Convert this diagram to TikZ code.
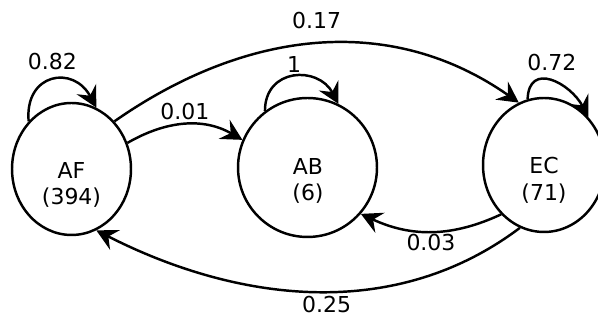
\documentclass[tikz,border=0pt]{standalone}
\usepackage{fontspec}
\setmainfont{DejaVu Sans}
\usetikzlibrary{shapes.geometric, arrows.meta, positioning}

\begin{document}
\begin{tikzpicture}[
    x=0.02cm, y=0.02cm,
    font=\fontsize{12.5}{15.3}\selectfont,
    state/.style={ellipse, draw, line width=1.4pt, inner sep=0pt},
    count/.style={align=center, inner sep=0pt},
    trans/.style={line width=1.4pt,
                  -{Stealth[length=0.42cm, width=0.44cm, inset=0.15cm]}},
    prob/.style={inner sep=2pt},
]
\useasboundingbox (0,0) rectangle (598,320);
%% States
\node[state, minimum width=2.38cm, minimum height=2.64cm] (AF) at (71.5,151) {};
\node[state, minimum width=2.78cm, minimum height=2.78cm] (AB) at (307.5,152.5) {};
\node[state, minimum width=2.44cm, minimum height=2.68cm] (EC) at (544,155) {};
\node[count] (AFt) at (71.5,135) {AF\\(394)};
\node[count] (ABt) at (308,139) {AB\\(6)};
\node[count] (ECt) at (544,140) {EC\\(71)};
%% Self loops
\draw[trans] (AF.132) to[out=95, in=118, looseness=1.8]
    node[prob, above=3pt] {0.82} (AF.68);
\draw[trans] (AB.127) to[out=90, in=118, looseness=1.5]
    node[prob, above] {1} (AB.64);
\draw[trans] (EC.104) to[out=88, in=118, looseness=1.55]
    node[prob, above=3pt] {0.72} (EC.47);
%% Transitions between states
\draw[trans] (AF.25) to[out=30, in=150] node[prob, above] {0.01} (AB.157);
\draw[trans] (AF.48) to[out=35, in=145] node[prob, above=6pt] {0.17} (EC.112);
\draw[trans] (EC.229) to[out=-155, in=-25] node[prob, below=-1pt] {0.03} (AB.-41);
\draw[trans] (EC.249) to[out=-143, in=-27, looseness=0.95]
    node[prob, below=0pt, pos=0.47] {0.25} (AF.-68);
\end{tikzpicture}
\end{document}
